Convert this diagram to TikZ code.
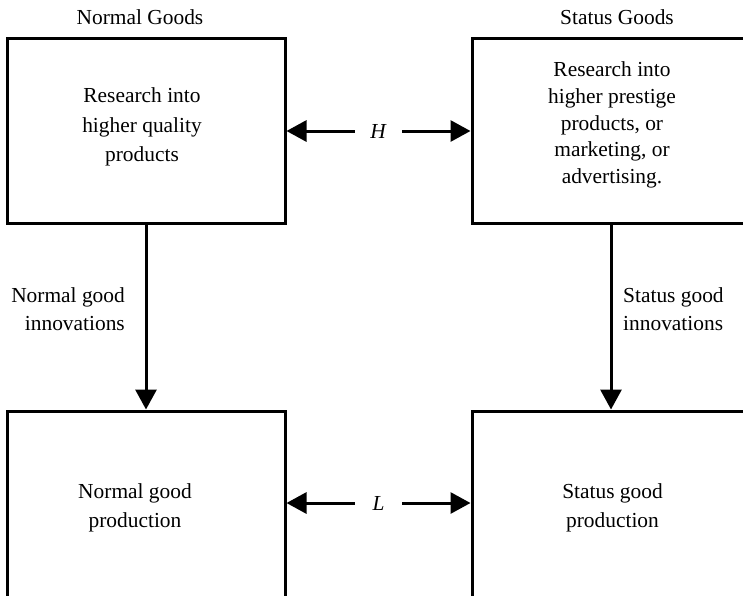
\documentclass[tikz,border=0pt]{standalone}
\usepackage{fontspec}
\setmainfont{Liberation Serif}
\usetikzlibrary{arrows.meta}
\begin{document}
\begin{tikzpicture}[x=1pt,y=-1pt,
  box/.style={draw,line width=3pt,minimum width=278pt,minimum height=185pt,inner sep=0pt,anchor=center},
  txt/.style={font=\fontsize{21.4}{28}\selectfont,align=center,inner sep=0pt},
  arr/.style={line width=3pt,-{Triangle[length=20pt,width=21pt]}}]
\useasboundingbox (0,0) rectangle (743,595);
\clip (0,0) rectangle (743,595);
\node[box] (tl) at (146,130.5) {};
\node[box] (tr) at (611,130.5) {};
\node[box,minimum height=186.5pt] (bl) at (146,504.25) {};
\node[box,minimum height=186.5pt] (br) at (611,504.25) {};
\node[txt] (ng) at (140,17) {Normal Goods};
\node[txt] (sg) at (617,17) {Status Goods};
\node[txt,font=\fontsize{21.4}{29.5}\selectfont] (tlt) at (142,127) {Research into\\higher quality\\products};
\node[txt,font=\fontsize{21.4}{26.7}\selectfont] (trt) at (612,125) {Research into\\higher prestige\\products, or\\marketing, or\\advertising.};
\node[txt,font=\fontsize{21.4}{29}\selectfont] (blt) at (135,507.5) {Normal good\\production};
\node[txt,font=\fontsize{21.4}{29}\selectfont] (brt) at (612.5,507.5) {Status good\\production};
\node[txt,align=right,anchor=east] (nglab) at (125,309) {Normal good\\innovations};
\node[txt,align=left,anchor=west] (sglab) at (623,309) {Status good\\innovations};
\node[txt,minimum width=47pt] (H) at (378.5,131) {\textit{H}};
\node[txt,minimum width=47pt] (L) at (378.5,503) {\textit{L}};
\draw[arr] (H.west) -- (H.west -| tl.east);
\draw[arr] (H.east) -- (H.east -| tr.west);
\draw[arr] (L.west) -- (L.west -| bl.east);
\draw[arr] (L.east) -- (L.east -| br.west);
\draw[arr] (tl.south) -- (bl.north);
\draw[arr] (tr.south) -- (tr.south |- bl.north);
\end{tikzpicture}
\end{document}
